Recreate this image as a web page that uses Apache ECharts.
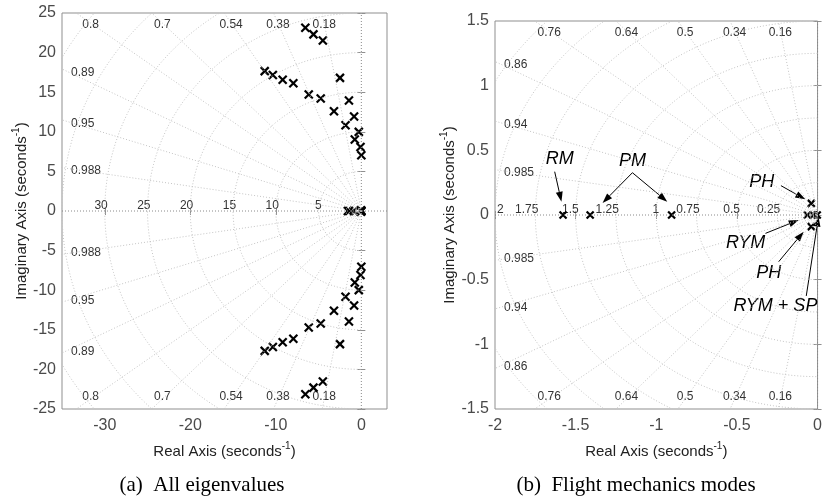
<!DOCTYPE html>
<html>
<head>
<meta charset="utf-8">
<script src="https://cdn.jsdelivr.net/npm/echarts@6/dist/echarts.min.js"></script>
<style>
  html, body { margin: 0; padding: 0; background: #fff; }
  #chart { width: 825px; height: 500px; }
</style>
</head>
<body>
<div id="chart"></div>
<script>
// (a) all eigenvalues: complex ones, upper half (conjugates drawn below the axis)
const allRe = [-6.55, -5.6, -4.5, -11.3, -10.35, -9.2, -7.95, -2.5, -6.15, -4.75,
  -1.45, -3.2, -0.85, -1.85, -0.3, -0.77, -0.1, 0];
const allIm = [23.14, 22.3, 21.54, 17.66, 17.16, 16.56, 16.14, 16.81, 14.72, 14.21,
  13.96, 12.6, 11.93, 10.83, 9.99, 9.03, 8.09, 7.04];

// (b) flight mechanics modes
const flightReal = [-1.578, -1.41, -0.905, -0.063, -0.025, -0.002];
const flightCplxRe = [-0.039];
const flightCplxIm = [0.09];

// sgrid levels
const zetaA = [0.18, 0.38, 0.54, 0.7, 0.8, 0.89, 0.95, 0.988];
const wnA = [5, 10, 15, 20, 25, 30, 35, 40];
const wnLabelA = [5, 10, 15, 20, 25, 30];
const zetaB = [0.16, 0.34, 0.5, 0.64, 0.76, 0.86, 0.94, 0.985];
const wnB = [0.25, 0.5, 0.75, 1, 1.25, 1.5, 1.75, 2, 2.25, 2.5];
const wnLabelB = [0.25, 0.5, 0.75, 1, 1.25, 1.5, 1.75, 2];

const xTicksA = [-30, -20, -10, 0];

// annotations of panel (b)
const noteText = ['RM', 'PM', 'PH', 'RYM', 'PH', 'RYM + SP'];
const notePos = [[-1.599, 0.433], [-1.148, 0.418], [-0.346, 0.258],
  [-0.446, -0.219], [-0.302, -0.446], [-0.261, -0.704]];
const arrowFrom = [[-1.630, 0.335], [-1.148, 0.327], [-1.148, 0.327], [-0.227, 0.227],
  [-0.323, -0.142], [-0.241, -0.361], [-0.070, -0.626]];
const arrowTo = [[-1.588, 0.103], [-1.333, 0.093], [-0.932, 0.103], [-0.076, 0.121],
  [-0.117, -0.039], [-0.086, -0.129], [0.006, -0.013]];

const extA = { xmin: -35, xmax: 3, ymin: -25, ymax: 25 };
const extB = { xmin: -2, xmax: 0, ymin: -1.5, ymax: 1.5 };

const SANS = '"Liberation Sans", Arial, Helvetica, sans-serif';
const SERIF = '"Liberation Serif", "Times New Roman", serif';
const GRID_C = '#c4c4c4';
const BOX_C = '#8f8f8f';

/*网格线*/
function arcs(wns) {
  const pts = [];
  wns.forEach(w => {
    for (let i = 0; i <= 120; i++) {
      const a = Math.PI / 2 + Math.PI * i / 120;
      pts.push([w * Math.cos(a), w * Math.sin(a)]);
    }
    pts.push([NaN, NaN]);
  });
  return pts;
}
function rays(zetas, R) {
  const pts = [];
  zetas.forEach(z => {
    const t = Math.sqrt(1 - z * z) / z;
    pts.push([-R, R * t], [0, 0], [-R, -R * t], [NaN, NaN]);
  });
  return pts;
}
function axesLines(ext) {
  return [[ext.xmin, 0], [ext.xmax, 0], [NaN, NaN], [0, ext.ymin], [0, ext.ymax]];
}

function poles(re, im, real) {
  const pts = [];
  re.forEach((r, i) => { pts.push([r, im[i]]); pts.push([r, -im[i]]); });
  real.forEach(r => pts.push([r, 0]));
  return pts;
}

function crossItem(h) {
  return function (params, api) {
    const p = api.coord([api.value(0), api.value(1)]);
    const st = { stroke: '#000', lineWidth: 2.2 };
    return {
      type: 'group', children: [
        { type: 'line', shape: { x1: p[0] - h, y1: p[1] - h, x2: p[0] + h, y2: p[1] + h }, style: st },
        { type: 'line', shape: { x1: p[0] - h, y1: p[1] + h, x2: p[0] + h, y2: p[1] - h }, style: st }
      ]
    };
  };
}

function zetaLabelItem(ext) {
  return function (params, api) {
    const z = api.value(0), s = api.value(1);
    const t = Math.sqrt(1 - z * z) / z;
    const cs = params.coordSys;
    const o = api.coord([0, 0]);
    const re = -ext.ymax / t;
    const base = { text: String(z), fill: '#333', fontSize: 12, fontFamily: SANS };
    if (re >= ext.xmin) {
      const c = api.coord([re, s * ext.ymax]);
      const py = s > 0 ? cs.y + 10 : cs.y + cs.height - 10;
      const px = o[0] + (c[0] - o[0]) * (py - o[1]) / (c[1] - o[1]);
      return {
        type: 'text', x: px, y: s > 0 ? cs.y + 12 : cs.y + cs.height - 12,
        style: Object.assign(base, { align: 'center', verticalAlign: 'middle' })
      };
    }
    const c = api.coord([ext.xmin, -s * ext.xmin * t]);
    return {
      type: 'text', x: cs.x + 9, y: c[1] + (s > 0 ? 3.5 : -1.5),
      style: Object.assign(base, { align: 'left', verticalAlign: 'middle' })
    };
  };
}

function wnLabelItem(ext) {
  return function (params, api) {
    const w = api.value(0);
    const c = api.coord([-w, 0]);
    const edge = w >= -ext.xmin - 1e-9;
    return {
      type: 'text', x: edge ? c[0] + 2 : c[0] + 3, y: c[1] - 5.5,
      style: {
        text: String(w), fill: '#333', fontSize: 12, fontFamily: SANS,
        align: edge ? 'left' : 'right', verticalAlign: 'middle'
      }
    };
  };
}

function noteItem(params, api) {
  const p = api.coord([api.value(0), api.value(1)]);
  return {
    type: 'text', x: p[0], y: p[1],
    style: {
      text: noteText[params.dataIndex], fill: '#000', fontSize: 18, fontStyle: 'italic',
      fontFamily: SANS, align: 'center', verticalAlign: 'middle'
    }
  };
}

function arrowItem(params, api) {
  const a = api.coord([api.value(0), api.value(1)]);
  const b = api.coord([api.value(2), api.value(3)]);
  const dx = b[0] - a[0], dy = b[1] - a[1];
  const L = Math.sqrt(dx * dx + dy * dy);
  const ux = dx / L, uy = dy / L;
  const hl = 10, hw = 3.5;
  const bx = b[0] - ux * hl, by = b[1] - uy * hl;
  return {
    type: 'group', children: [
      { type: 'line', shape: { x1: a[0], y1: a[1], x2: bx, y2: by }, style: { stroke: '#000', lineWidth: 1 } },
      {
        type: 'polygon',
        shape: { points: [[b[0], b[1]], [bx - uy * hw, by + ux * hw], [bx + uy * hw, by - ux * hw]] },
        style: { fill: '#000' }
      }
    ]
  };
}

const chart = echarts.init(document.getElementById('chart'), null, { renderer: 'canvas' });

const grids = [
  { left: 62, top: 13, width: 325, height: 396, show: true, borderColor: BOX_C, borderWidth: 1 },
  { left: 495, top: 21, width: 324, height: 388, show: true, borderColor: BOX_C, borderWidth: 1 }
];

const tickStyle = { show: true, inside: true, length: 4, lineStyle: { color: BOX_C } };
const labelStyle = { color: '#4a4a4a', fontSize: 16, fontFamily: SANS };
const nameStyle = {
  color: '#222', fontSize: 15, fontFamily: SANS,
  rich: {
    n: { fontSize: 15, lineHeight: 18, verticalAlign: 'bottom', fontFamily: SANS, color: '#222' },
    sup: { fontSize: 10, lineHeight: 12, verticalAlign: 'top', fontFamily: SANS, color: '#222' }
  }
};
const axisName = '{n|Real Axis (seconds}{sup|-1}{n|)}';
const imagName = '{n|Imaginary Axis (seconds}{sup|-1}{n|)}';

function xAx(gi, ext, pos, opts) {
  return Object.assign({
    type: 'value', gridIndex: gi, position: pos, min: ext.xmin, max: ext.xmax,
    axisLine: { show: false }, splitLine: { show: false },
    axisTick: Object.assign({}, tickStyle),
    axisLabel: Object.assign({ show: pos === 'bottom', margin: 9 }, labelStyle)
  }, opts || {});
}
function yAx(gi, ext, pos, opts) {
  return Object.assign({
    type: 'value', gridIndex: gi, position: pos, min: ext.ymin, max: ext.ymax,
    axisLine: { show: false }, splitLine: { show: false },
    axisTick: Object.assign({}, tickStyle),
    axisLabel: Object.assign({ show: pos === 'left', margin: 6 }, labelStyle)
  }, opts || {});
}

const option = {
  animation: false,
  grid: grids,
  xAxis: [
    xAx(0, extA, 'bottom', {
      axisTick: Object.assign({ customValues: xTicksA }, tickStyle),
      axisLabel: Object.assign({}, labelStyle, { customValues: xTicksA, show: true, margin: 9 }),
      name: axisName, nameLocation: 'middle', nameGap: 32, nameTextStyle: nameStyle
    }),
    xAx(0, extA, 'top', { axisTick: Object.assign({ customValues: xTicksA }, tickStyle) }),
    xAx(1, extB, 'bottom', {
      interval: 0.5,
      name: axisName, nameLocation: 'middle', nameGap: 32, nameTextStyle: nameStyle
    }),
    xAx(1, extB, 'top', { interval: 0.5 })
  ],
  yAxis: [
    yAx(0, extA, 'left', {
      interval: 5,
      name: imagName, nameLocation: 'middle', nameGap: 26, nameTextStyle: nameStyle
    }),
    yAx(0, extA, 'right', { interval: 5 }),
    yAx(1, extB, 'left', {
      interval: 0.5,
      name: imagName, nameLocation: 'middle', nameGap: 28, nameTextStyle: nameStyle
    }),
    yAx(1, extB, 'right', { interval: 0.5 })
  ],
  series: [
    // panel (a) grid
    { type: 'line', xAxisIndex: 0, yAxisIndex: 0, data: arcs(wnA), showSymbol: false, silent: true,
      lineStyle: { color: GRID_C, width: 1, type: [1, 2] } },
    { type: 'line', xAxisIndex: 0, yAxisIndex: 0, data: rays(zetaA, 200), showSymbol: false, silent: true,
      lineStyle: { color: GRID_C, width: 1, type: [1, 2] } },
    { type: 'line', xAxisIndex: 0, yAxisIndex: 0, data: axesLines(extA), showSymbol: false, silent: true,
      lineStyle: { color: '#8a8a8a', width: 1, type: [1, 2] } },
    { type: 'custom', xAxisIndex: 0, yAxisIndex: 0, renderItem: zetaLabelItem(extA), silent: true,
      data: zetaA.flatMap(z => [[z, 1], [z, -1]]) },
    { type: 'custom', xAxisIndex: 0, yAxisIndex: 0, renderItem: wnLabelItem(extA), silent: true,
      data: wnLabelA.map(w => [w, 0]) },
    { type: 'custom', xAxisIndex: 0, yAxisIndex: 0, renderItem: crossItem(4), silent: true, clip: false,
      data: poles(allRe.concat(flightCplxRe), allIm.concat(flightCplxIm), flightReal) },

    // panel (b) grid
    { type: 'line', xAxisIndex: 2, yAxisIndex: 2, data: arcs(wnB), showSymbol: false, silent: true,
      lineStyle: { color: GRID_C, width: 1, type: [1, 2] } },
    { type: 'line', xAxisIndex: 2, yAxisIndex: 2, data: rays(zetaB, 20), showSymbol: false, silent: true,
      lineStyle: { color: GRID_C, width: 1, type: [1, 2] } },
    { type: 'line', xAxisIndex: 2, yAxisIndex: 2, data: axesLines(extB), showSymbol: false, silent: true,
      lineStyle: { color: '#8a8a8a', width: 1, type: [1, 2] } },
    { type: 'custom', xAxisIndex: 2, yAxisIndex: 2, renderItem: zetaLabelItem(extB), silent: true,
      data: zetaB.flatMap(z => [[z, 1], [z, -1]]) },
    { type: 'custom', xAxisIndex: 2, yAxisIndex: 2, renderItem: wnLabelItem(extB), silent: true,
      data: wnLabelB.map(w => [w, 0]) },
    { type: 'custom', xAxisIndex: 2, yAxisIndex: 2, renderItem: crossItem(3.5), silent: true, clip: false,
      data: poles(flightCplxRe, flightCplxIm, flightReal) },
    { type: 'custom', xAxisIndex: 2, yAxisIndex: 2, renderItem: arrowItem, silent: true, clip: false,
      data: arrowFrom.map((p, i) => [p[0], p[1], arrowTo[i][0], arrowTo[i][1]]) },
    { type: 'custom', xAxisIndex: 2, yAxisIndex: 2, renderItem: noteItem, silent: true, clip: false,
      data: notePos }
  ],
  graphic: [
    { type: 'text', x: 202, y: 485, style: { text: '(a)\u00a0\u00a0All eigenvalues', font: '21px ' + SERIF,
      fill: '#000', align: 'center', verticalAlign: 'middle' } },
    { type: 'text', x: 636, y: 485, style: { text: '(b)\u00a0\u00a0Flight mechanics modes', font: '21px ' + SERIF,
      fill: '#000', align: 'center', verticalAlign: 'middle' } }
  ]
};

chart.setOption(option);
</script>
</body>
</html>
